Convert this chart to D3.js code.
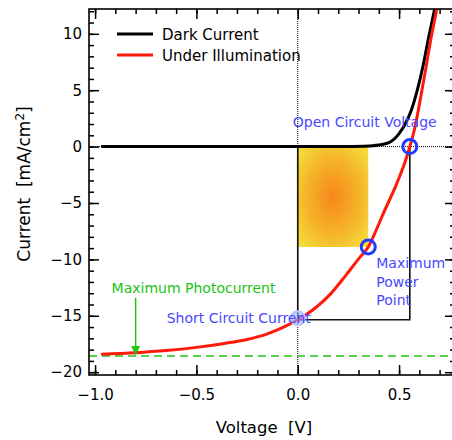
<!DOCTYPE html>
<html><head><meta charset="utf-8">
<script src="https://cdn.jsdelivr.net/npm/d3@7"></script>
<style>
body{margin:0;background:#fff}
svg{display:block;font-family:"DejaVu Sans",sans-serif}
</style>
</head><body>
<svg id="c" width="452" height="440"></svg>
<script>
// ---- data ----
const darkV = [-0.97, 0.0, 0.2, 0.33, 0.40, 0.45, 0.50, 0.53, 0.56, 0.59, 0.62, 0.645, 0.665, 0.685, 0.70];
const darkJ = [0, 0, 0, 0.04, 0.14, 0.35, 1.15, 2.0, 3.2, 5.0, 7.3, 9.6, 11.3, 13.0, 14.2];
const lightV = [-0.97, -0.8, -0.65, -0.5, -0.37, -0.25, -0.15, -0.07, 0.0, 0.08, 0.16, 0.24, 0.307, 0.348, 0.38, 0.423, 0.489, 0.538, 0.553, 0.579, 0.604, 0.628, 0.653, 0.683, 0.70];
const lightJ = [-18.4, -18.27, -18.08, -17.8, -17.47, -17.1, -16.6, -16.0, -15.35, -14.4, -13.1, -11.35, -9.8, -8.9, -7.7, -5.9, -3.26, -0.9, 0, 1.76, 4.12, 6.5, 9.15, 11.9, 13.5];
const xTickLabels = [-1.0, -0.5, 0.0, 0.5];
const yTickLabels = [-20, -15, -10, -5, 0, 5, 10];
const seriesNames = ["Dark Current", "Under Illumination"];
const seriesColors = ["#000000", "#ff1a0a"];
const Voc = 0.553, Jsc = -15.35, Vmp = 0.348, Jmp = -8.9, Jmax = -18.57;
const arrowV = -0.8, arrowTopJ = -13.4;

// ---- layout ----
const svg = d3.select("#c");
const L = 89, R = 455, T = 9, B = 375;
const x = d3.scaleLinear().domain([-1.03, 0.776]).range([L, R]);
const y = d3.scaleLinear().domain([-20.25, 12.2]).range([B, T]);

const defs = svg.append("defs");
defs.append("clipPath").attr("id", "clip").append("rect")
  .attr("x", L).attr("y", T).attr("width", R - L).attr("height", B - T);
const g = defs.append("radialGradient").attr("id", "pw").attr("cx", "50%").attr("cy", "50%").attr("r", "70%");
g.append("stop").attr("offset", "0%").attr("stop-color", "#f7861a");
g.append("stop").attr("offset", "55%").attr("stop-color", "#f5b52a");
g.append("stop").attr("offset", "100%").attr("stop-color", "#f4e43e");

const plot = svg.append("g").attr("clip-path", "url(#clip)");

// power rectangle
plot.append("rect")
  .attr("x", x(0)).attr("y", y(0))
  .attr("width", x(Vmp) - x(0)).attr("height", y(Jmp) - y(0))
  .attr("fill", "url(#pw)");

// dotted zero lines
plot.append("line").attr("x1", x(0)).attr("x2", x(0)).attr("y1", T).attr("y2", B)
  .attr("stroke", "#000").attr("stroke-width", 1).attr("stroke-dasharray", "1,1");
plot.append("line").attr("x1", L).attr("x2", R).attr("y1", y(0)).attr("y2", y(0))
  .attr("stroke", "#000").attr("stroke-width", 1).attr("stroke-dasharray", "1,1");

// Voc-Jsc box
plot.append("path")
  .attr("d", `M${x(0)},${y(0)}V${y(Jsc)}H${x(Voc)}V${y(0)}`)
  .attr("fill", "none").attr("stroke", "#111").attr("stroke-width", 1.6);

// maximum photocurrent dashed line
plot.append("line").attr("x1", L).attr("x2", R).attr("y1", y(Jmax)).attr("y2", y(Jmax))
  .attr("stroke", "#22c414").attr("stroke-width", 1.6).attr("stroke-dasharray", "8,5");

// curves
const line = (V, J) => d3.line().x((d, i) => x(V[i])).y((d, i) => y(J[i])).curve(d3.curveMonotoneX)(V);
plot.append("path").attr("d", line(darkV, darkJ)).attr("fill", "none")
  .attr("stroke", seriesColors[0]).attr("stroke-width", 3);
plot.append("path").attr("d", line(lightV, lightJ)).attr("fill", "none")
  .attr("stroke", seriesColors[1]).attr("stroke-width", 3);

// green arrow
const ax = x(arrowV);
svg.append("line").attr("x1", ax).attr("x2", ax).attr("y1", y(arrowTopJ)).attr("y2", y(Jmax) - 8)
  .attr("stroke", "#22c414").attr("stroke-width", 1.5);
svg.append("path").attr("d", `M${ax - 4.5},${y(Jmax) - 10}L${ax + 4.5},${y(Jmax) - 10}L${ax},${y(Jmax) - 0.5}Z`)
  .attr("fill", "#22c414");

// points
const blue = "#1f3cff";
svg.append("circle").attr("cx", x(Voc)).attr("cy", y(0)).attr("r", 7)
  .attr("fill", "none").attr("stroke", blue).attr("stroke-width", 3);
svg.append("circle").attr("cx", x(Vmp)).attr("cy", y(Jmp)).attr("r", 7)
  .attr("fill", "none").attr("stroke", blue).attr("stroke-width", 3);
svg.append("circle").attr("cx", x(0)).attr("cy", y(Jsc) - 1.5).attr("r", 7)
  .attr("fill", "#9fb2ff").attr("fill-opacity", 0.6).attr("stroke", "#b8c6ff").attr("stroke-width", 2);

// annotations
const txtBlue = "#4848ff";
const ann = svg.append("g").attr("font-size", 14);
ann.append("text").attr("x", x(Voc) - 117).attr("y", y(0) - 19.5).attr("fill", txtBlue).text("Open Circuit Voltage");
["Maximum", "Power", "Point"].forEach((t, i) =>
  ann.append("text").attr("x", x(Vmp) + 8).attr("y", y(Jmp) + 21.5 + i * 18.5).attr("fill", txtBlue).text(t));
ann.append("text").attr("x", x(0) - 131).attr("y", y(Jsc) + 3).attr("fill", txtBlue).text("Short Circuit Current");
ann.append("text").attr("x", ax - 24).attr("y", y(arrowTopJ) - 4.5).attr("fill", "#22c414").text("Maximum Photocurrent");

// axes (ticks inward on all sides)
const minorX = d3.range(-10, 8).map(d => d / 10);
const minorY = d3.range(-20, 13);
const fmtX = d3.format(".1f");
function styleAxis(sel) {
  sel.select(".domain").remove();
  sel.selectAll("line").attr("stroke", "#000").attr("stroke-width", 1.5);
}
svg.append("g").attr("transform", `translate(0,${B})`)
  .call(d3.axisBottom(x).tickValues(minorX).tickSize(-5).tickFormat("")).call(styleAxis);
svg.append("g").attr("transform", `translate(0,${B})`)
  .call(d3.axisBottom(x).tickValues(xTickLabels).tickSize(-10).tickPadding(14).tickFormat(fmtX))
  .call(styleAxis)
  .call(s => s.selectAll("text").attr("font-size", 15).attr("font-family", "DejaVu Sans").attr("fill", "#000"));
svg.append("g").attr("transform", `translate(0,${T})`)
  .call(d3.axisTop(x).tickValues(minorX).tickSize(-5).tickFormat("")).call(styleAxis);
svg.append("g").attr("transform", `translate(0,${T})`)
  .call(d3.axisTop(x).tickValues(xTickLabels).tickSize(-10).tickFormat("")).call(styleAxis);
svg.append("g").attr("transform", `translate(${L},0)`)
  .call(d3.axisLeft(y).tickValues(minorY).tickSize(-5).tickFormat("")).call(styleAxis);
svg.append("g").attr("transform", `translate(${L},0)`)
  .call(d3.axisLeft(y).tickValues(yTickLabels).tickSize(-10).tickPadding(7))
  .call(styleAxis)
  .call(s => s.selectAll("text").attr("font-size", 15).attr("font-family", "DejaVu Sans").attr("fill", "#000"));
svg.append("g").attr("transform", `translate(${R},0)`)
  .call(d3.axisRight(y).tickValues(minorY).tickSize(-5).tickFormat("")).call(styleAxis);
svg.append("g").attr("transform", `translate(${R},0)`)
  .call(d3.axisRight(y).tickValues(yTickLabels).tickSize(-10).tickFormat("")).call(styleAxis);

// frame
svg.append("rect").attr("x", L).attr("y", T).attr("width", R - L).attr("height", B - T)
  .attr("fill", "none").attr("stroke", "#000").attr("stroke-width", 1.6);

// axis titles
svg.append("text").attr("x", 264).attr("y", 433).attr("text-anchor", "middle")
  .attr("font-size", 16.5).attr("xml:space", "preserve").style("white-space", "pre").text("Voltage  [V]");
const yt = svg.append("text").attr("transform", "translate(30,184) rotate(-90)")
  .attr("text-anchor", "middle").attr("font-size", 17).style("white-space", "pre");
yt.append("tspan").text("Current  [mA/cm");
yt.append("tspan").attr("dy", -6).attr("font-size", 12).text("2");
yt.append("tspan").attr("dy", 6).text("]");

// legend
const leg = svg.append("g");
seriesNames.forEach((n, i) => {
  leg.append("line").attr("x1", 117).attr("x2", 153).attr("y1", 34 + i * 21).attr("y2", 34 + i * 21)
    .attr("stroke", seriesColors[i]).attr("stroke-width", 3);
  leg.append("text").attr("x", 162).attr("y", 39.5 + i * 21).attr("font-size", 15).text(n);
});
</script>
</body></html>
